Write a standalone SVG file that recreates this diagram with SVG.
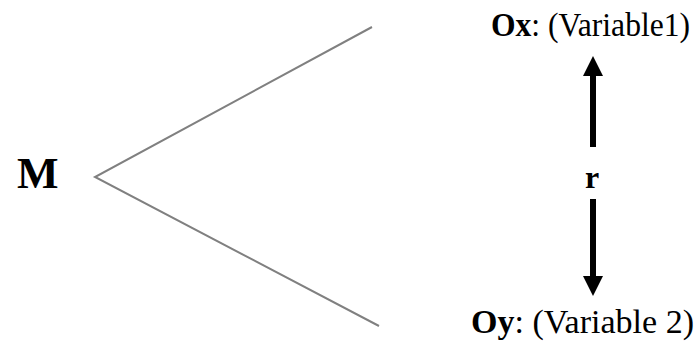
<svg xmlns="http://www.w3.org/2000/svg" width="698" height="341" viewBox="0 0 698 341">
<style>
text{font-family:"Liberation Serif","Times New Roman",serif;fill:#000}
.b{font-weight:bold}
.lbl{font-size:33px}
.edge{stroke:#808080;stroke-width:2;fill:none}
.arr{stroke:#000;stroke-width:6;fill:none}
</style>
<defs>
<marker id="ah" markerUnits="userSpaceOnUse" markerWidth="24" markerHeight="20" refX="0" refY="10" orient="auto" viewBox="0 0 24 20">
<path d="M0,0 L20,10 L0,20 Z" fill="#000"/>
</marker>
</defs>
<g id="connectors">
<polyline class="edge" points="372,27 95,177 379,326"/>
<line class="arr" x1="593" y1="147" x2="593" y2="76" marker-end="url(#ah)"/>
<line class="arr" x1="593" y1="199" x2="593" y2="276" marker-end="url(#ah)"/>
</g>
<g id="M"><text x="17" y="188" class="b" font-size="44">M</text></g>
<g id="Ox"><text x="491" y="36" class="lbl" textLength="199" lengthAdjust="spacingAndGlyphs"><tspan class="b">Ox</tspan>: (Variable1)</text></g>
<g id="r"><text x="592" y="188" class="b" font-size="32" text-anchor="middle">r</text></g>
<g id="Oy"><text x="471" y="333" class="lbl" textLength="223" lengthAdjust="spacingAndGlyphs"><tspan class="b">Oy</tspan>: (Variable 2)</text></g>
</svg>
